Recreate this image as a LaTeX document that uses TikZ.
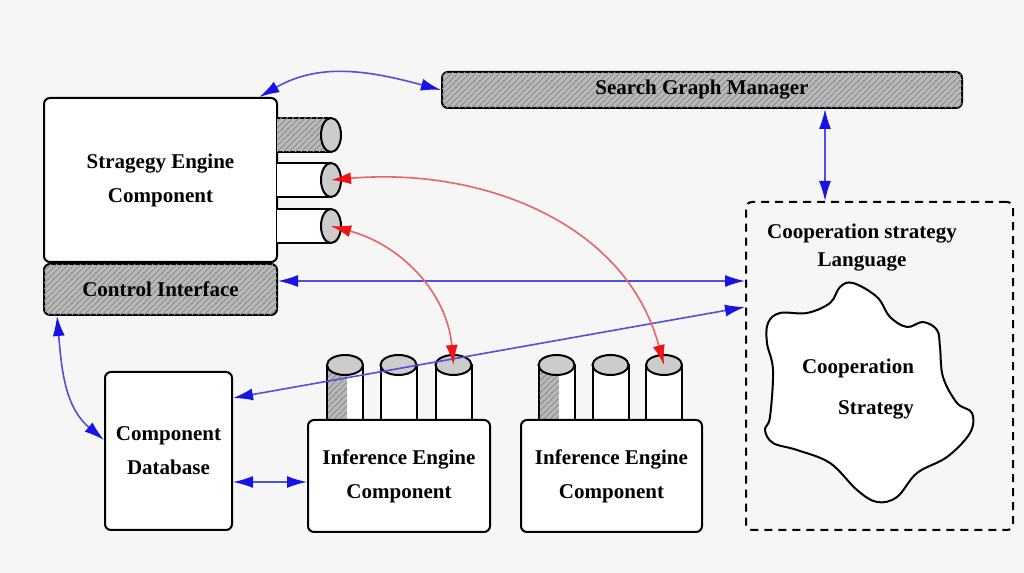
\documentclass[tikz,border=0pt]{standalone}
\usepackage{fontspec}
\setmainfont{Liberation Serif}
\usetikzlibrary{arrows.meta,shapes.geometric,patterns}
\definecolor{linkblue}{RGB}{80,80,220}
\definecolor{tipblue}{RGB}{20,20,230}
\definecolor{linkred}{RGB}{232,100,100}
\definecolor{tipred}{RGB}{240,20,20}
\begin{document}
\begin{tikzpicture}[x=0.5pt,y=0.5pt,
    box/.style={draw, line width=1pt, rounded corners=3pt, fill=white, align=center,
        font=\fontsize{10.5}{17}\selectfont\bfseries},
    hatched/.style={fill=gray!55, postaction={pattern=north east lines, pattern color=black!45}},
    portcap/.style={ellipse, draw, line width=1pt, fill=gray!40, inner sep=0pt},
    lbltext/.style={align=center, font=\fontsize{10.5}{14}\selectfont\bfseries},
    bluelink/.style={draw=linkblue, line width=0.8pt,
        {Latex[length=10pt,width=6pt,color=tipblue]}-{Latex[length=10pt,width=6pt,color=tipblue]}},
    redlink/.style={draw=linkred, line width=0.8pt,
        {Latex[length=10pt,width=6pt,color=tipred]}-{Latex[length=10pt,width=6pt,color=tipred]}}]
    \useasboundingbox[fill=gray!7] (0,0) rectangle (1024,573);
    % strategy engine and its ports
    \node[box, minimum width=116.5pt, minimum height=82pt] (se) at (160.5,393) {Stragegy Engine\\Component};
    \node[box, hatched, minimum width=116.5pt, minimum height=25.5pt] (ci) at (160.5,283.5) {Control Interface};
    \filldraw[hatched, line width=1pt] (277,455) -- (331,455) -- (331,421) -- (277,421);
    \node[portcap, minimum width=10pt, minimum height=17pt] (hc1) at (331,438) {};
    \foreach \y/\nm in {393/hc2,347/hc3} {
        \filldraw[fill=white, line width=1pt] (277,\y+17) -- (331,\y+17) -- (331,\y-17) -- (277,\y-17);
        \node[portcap, minimum width=10pt, minimum height=17pt] (\nm) at (331,\y) {};
    }
    % search graph manager
    \node[box, hatched, minimum width=260pt, minimum height=18pt] (sgm) at (702,483) {Search Graph Manager};
    % cooperation strategy language
    \node[draw, line width=1pt, dash pattern=on 4pt off 3pt, rounded corners=3pt,
        minimum width=133.5pt, minimum height=164pt] (lang) at (879.5,207) {};
    \node[lbltext] (langtext) at (862,325) {Cooperation strategy\\Language};
    \draw[line width=1pt, fill=white] plot[smooth cycle, tension=0.6] coordinates {
        (853,290) (877,276) (890,256) (907,246) (923,251) (937,243) (940,226) (943,196)
        (957,170) (972,160) (970,140) (947,116) (917,100) (897,76) (877,71) (857,83)
        (830,110) (797,123) (773,130) (765,143) (770,156) (773,203) (767,230) (768,250)
        (780,260) (807,260) (830,270) (840,286)};
    \node[lbltext] (coop) at (858,205) {Cooperation};
    \node[lbltext] (strat) at (876,163) {Strategy};
    % inference engines with their ports
    \foreach \x in {345,398.5,453.5,556.5,610.5,664}
        \filldraw[fill=white, line width=1pt] (\x-18,153) -- (\x-18,208) -- (\x+18,208) -- (\x+18,153);
    \fill[hatched] (328,154) rectangle (347,208);
    \fill[hatched] (539.5,154) rectangle (558.5,208);
    \foreach \x/\nm in {345/va1,398.5/va2,453.5/va3,556.5/vb1,610.5/vb2,664/vb3}
        \node[portcap, minimum width=18pt, minimum height=10pt] (\nm) at (\x,208) {};
    \node[box, minimum width=91pt, minimum height=56pt] (ie1) at (399,97) {Inference Engine\\Component};
    \node[box, minimum width=90.5pt, minimum height=56pt] (ie2) at (611.5,97) {Inference Engine\\Component};
    % component database
    \node[box, minimum width=63.5pt, minimum height=79pt] (db) at (168.5,122) {Component\\Database};
    % links
    \draw[bluelink] (se.40) to[out=30,in=165] (sgm.west);
    \draw[bluelink] ([xshift=61.5pt]sgm.south) -- ([xshift=61.5pt]sgm.south |- lang.north);
    \draw[bluelink] ([yshift=4.25pt]ci.east) -- ([yshift=4.25pt]ci.east -| lang.west);
    \draw[bluelink] ([yshift=26.5pt]db.east) -- ([yshift=29.5pt]lang.west);
    \draw[bluelink] ([xshift=7pt]ci.south west) to[out=275,in=140] ([yshift=5.5pt]db.west);
    \draw[bluelink] ([yshift=-3pt]ie1.west -| db.east) -- ([yshift=-3pt]ie1.west);
    \draw[redlink] (hc2.center) to[out=5,in=105] (vb3.center);
    \draw[redlink] (hc3.center) to[out=-15,in=95] (va3.center);
\end{tikzpicture}
\end{document}
